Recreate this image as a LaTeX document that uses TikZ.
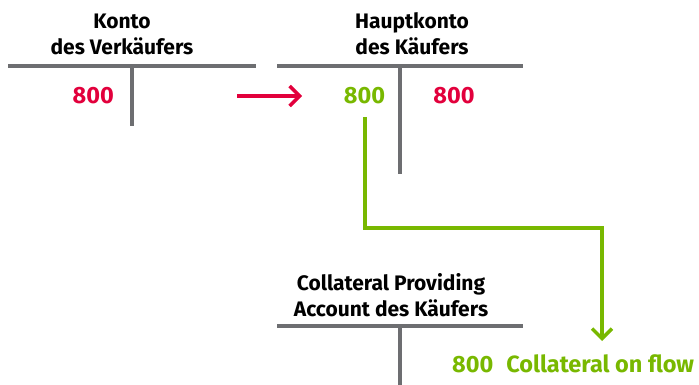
\documentclass[tikz,border=0pt]{standalone}
\usepackage{fontspec}
\setmainfont{Fira Sans}
\usetikzlibrary{arrows.meta}
\definecolor{tgray}{HTML}{6D6E71}
\definecolor{tred}{HTML}{E2003C}
\definecolor{tgreen}{HTML}{78B800}
\tikzset{
  tline/.style={draw=tgray, line width=4pt},
  ttitle/.style={font=\fontsize{21}{26}\selectfont\bfseries, align=center, text=black, inner sep=0pt},
  redval/.style={font=\fontsize{23.5}{26}\selectfont\bfseries, text=tred, inner sep=0pt},
  greenval/.style={font=\fontsize{23.5}{26}\selectfont\bfseries, text=tgreen, inner sep=0pt},
  redarrow/.style={draw=tred, line width=3.5pt, -{Straight Barb[length=10pt,width=20pt,line width=3.5pt]}},
  greenarrow/.style={draw=tgreen, line width=3.5pt, -{Straight Barb[length=10pt,width=20pt,line width=3.5pt]}}
}
\begin{document}
\begin{tikzpicture}[x=1pt,y=-1pt]
\useasboundingbox (0,0) rectangle (699,385);
% T-account 1
\node[ttitle] (t1) at (122,34) {Konto\\des Verkäufers};
\coordinate (h1l) at (8,66); \coordinate (h1r) at (256,66);
\coordinate (v1t) at (132,66); \coordinate (v1b) at (132,126);
\draw[tline] (h1l) -- (h1r);
\draw[tline] (v1t) -- (v1b);
\node[redval, anchor=east] (a1) at (114,96) {800};
% T-account 2
\node[ttitle] (t2) at (412,34) {Hauptkonto\\des Käufers};
\coordinate (h2l) at (277,66); \coordinate (h2r) at (523,66);
\coordinate (v2t) at (400,66); \coordinate (v2b) at (400,174);
\draw[tline] (h2l) -- (h2r);
\draw[tline] (v2t) -- (v2b);
\node[greenval] (g2) at (364.5,96) {800};
\node[redval] (r2) at (454,96) {800};
% arrow
\coordinate (ra) at (237,96); \coordinate (rb) at (302,96);
\draw[redarrow] (ra) -- (rb);
% T-account 3
\node[ttitle] (t3) at (391,295) {Collateral Providing\\Account des Käufers};
\coordinate (h3l) at (277,326); \coordinate (h3r) at (523,326);
\coordinate (v3t) at (400,326); \coordinate (v3b) at (400,385);
\draw[tline] (h3l) -- (h3r);
\draw[tline] (v3t) -- (v3b);
\node[greenval, anchor=west] (g3) at (452,364) {800\hspace{0.55em}Collateral on flow};
% green flow
\coordinate (gs) at (365,117);
\coordinate (ge) at (602,341);
\draw[greenarrow] (gs) |- (602,228) -- (ge);
\end{tikzpicture}
\end{document}
